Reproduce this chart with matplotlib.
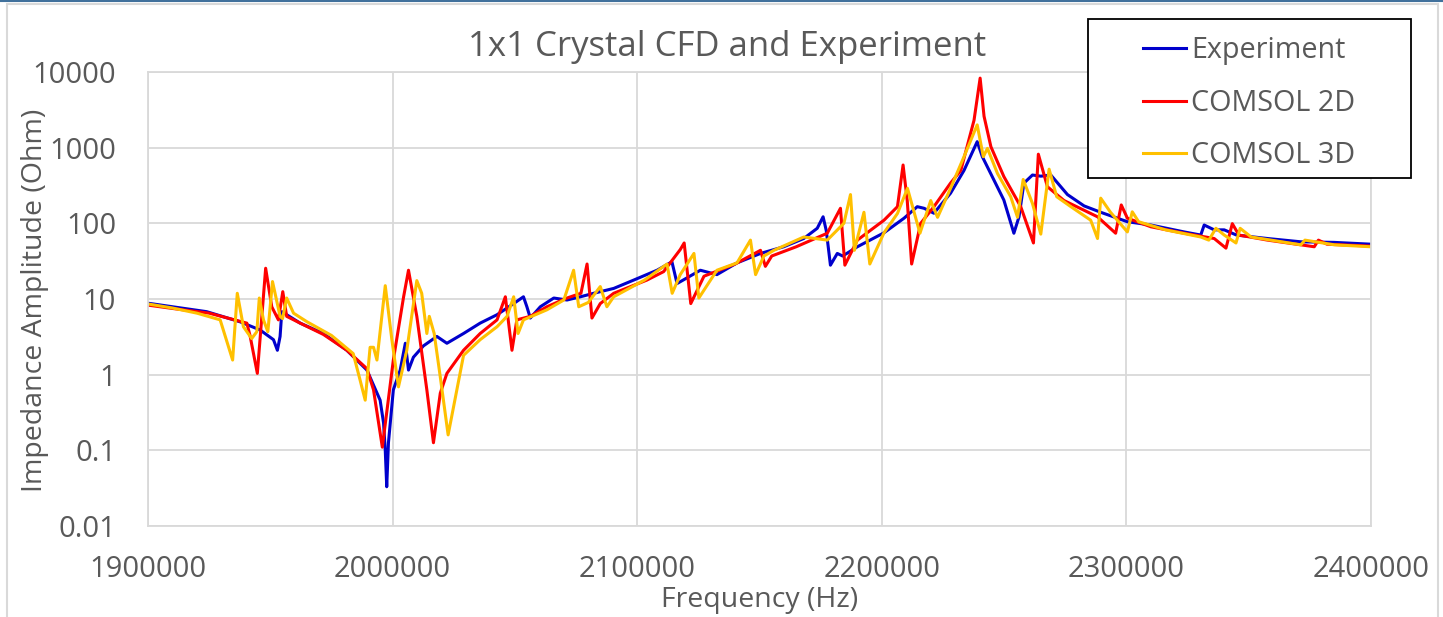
import matplotlib
matplotlib.use("Agg")
import matplotlib.pyplot as plt
from matplotlib.patches import Rectangle
from matplotlib.lines import Line2D
from matplotlib.ticker import FixedLocator, FixedFormatter

plt.rcParams['font.family'] = ['Open Sans', 'DejaVu Sans']

# ---- data -------------------------------------------------------------
exp_f = [1900000, 1910000, 1924000, 1937600, 1945800, 1951300, 1952900, 1954000,
         1954700, 1956700, 1962200, 1971700, 1981300, 1989500, 1994900, 1996300,
         1997000, 1997600, 1998300, 2000300, 2003100, 2005200, 2006500, 2008500,
         2012600, 2018100, 2022200, 2029000, 2035800, 2042700, 2049500, 2053500,
         2054900, 2056300, 2060400, 2065900, 2071300, 2076800, 2082200, 2090400,
         2098600, 2108100, 2114200, 2116300, 2125800, 2132600, 2140800, 2150400,
         2159900, 2168100, 2173600, 2176000, 2177300, 2179000, 2181800, 2184000,
         2190000, 2200900, 2209100, 2214500, 2217300, 2221300, 2228100, 2233600,
         2239000, 2241100, 2245900, 2249900, 2254000, 2256100, 2258100, 2261600,
         2265000, 2269100, 2275900, 2282700, 2289500, 2300400, 2310000, 2323600,
         2330400, 2331800, 2335900, 2340000, 2345000, 2357700, 2371300, 2385000,
         2400000]
exp_z = [8.8, 7.9, 6.8, 5.0, 3.9, 2.9, 2.1, 3.2,
         6.8, 6.2, 4.8, 3.5, 2.1, 1.15, 0.46, 0.23,
         0.1, 0.033, 0.126, 0.63, 1.15, 2.6, 1.15, 1.7,
         2.4, 3.2, 2.6, 3.5, 4.8, 6.2, 8.7, 10.7,
         7.9, 5.6, 7.9, 10.3, 9.7, 10.7, 11.9, 13.8,
         17.8, 24, 31, 16, 24, 21, 30, 40,
         49, 63, 86, 122, 80, 28, 40, 37,
         49, 75, 117, 166, 158, 136, 250, 500,
         1200, 760, 370, 203, 74, 122, 340, 435,
         420, 435, 240, 170, 140, 105, 95, 77,
         70, 95, 82, 82, 70, 63, 57, 56,
         53]

c2d_f = [1900000, 1910000, 1925000, 1940400, 1941700, 1944700, 1948100, 1950600,
         1953300, 1955100, 1956700, 1962200, 1971700, 1981300, 1989500, 1992200,
         1995800, 2000300, 2004500, 2006500, 2009900, 2014000, 2016700, 2019500,
         2022200, 2029000, 2035800, 2042700, 2046100, 2048800, 2050800, 2056300,
         2063100, 2071300, 2077000, 2079500, 2081500, 2084900, 2090400, 2104000,
         2110800, 2117600, 2119200, 2121900, 2127300, 2140000, 2150400, 2152400,
         2155000, 2165000, 2177700, 2183100, 2184900, 2190000, 2200900, 2206400,
         2208700, 2210400, 2212200, 2215900, 2221300, 2228100, 2232300, 2237700,
         2240200, 2241800, 2244600, 2249900, 2256800, 2262000, 2264000, 2267700,
         2274500, 2288200, 2295600, 2297900, 2300400, 2310000, 2323600, 2335900,
         2340700, 2343300, 2346000, 2357700, 2371300, 2376800, 2378500, 2382000,
         2400000]
c2d_z = [8.3, 7.5, 6.5, 4.8, 3.3, 1.04, 25.5, 7.9,
         5.3, 12.5, 5.9, 4.8, 3.4, 2.1, 1.2, 0.63,
         0.11, 1.56, 10.7, 24, 5.9, 0.63, 0.126, 0.57,
         1.04, 2.1, 3.5, 5.3, 10.7, 2.1, 5.3, 5.9,
         7.9, 10.3, 11.9, 29, 5.6, 8.7, 11.9, 17.8,
         23, 45, 55, 8.7, 20, 29, 44, 27,
         37, 49, 74, 158, 28, 60, 110, 166,
         590, 200, 29, 100, 166, 340, 500, 2300,
         8300, 2600, 1030, 415, 166, 55, 820, 305,
         200, 122, 74, 175, 117, 90, 74, 63,
         47, 99, 70, 60, 52, 49, 60, 53,
         50]

c3d_f = [1900000, 1910000, 1920000, 1929500, 1934600, 1936500, 1939000, 1942400,
         1944500, 1945500, 1947200, 1949000, 1950900, 1954000, 1955000, 1956700,
         1959500, 1965000, 1975000, 1983900, 1986700, 1988800, 1990800, 1992200,
         1993600, 1997000, 1999700, 2002400, 2005800, 2009900, 2011900, 2014000,
         2015000, 2017000, 2019500, 2022700, 2029000, 2035800, 2042700, 2046800,
         2049500, 2051300, 2053500, 2063100, 2070000, 2074000, 2076100, 2080000,
         2084900, 2087600, 2090400, 2103000, 2112200, 2114300, 2117600, 2123200,
         2125200, 2132600, 2140800, 2146300, 2148400, 2151800, 2155900, 2168100,
         2177700, 2184500, 2187200, 2188800, 2192700, 2195100, 2200900, 2206400,
         2210500, 2215600, 2220000, 2222800, 2228100, 2233600, 2239000, 2241500,
         2243200, 2247300, 2252700, 2255500, 2257800, 2261600, 2265000, 2268400,
         2271500, 2277300, 2285400, 2288200, 2289500, 2293500, 2300400, 2302400,
         2305000, 2316000, 2330400, 2333700, 2336600, 2340000, 2344800, 2346500,
         2351000, 2371300, 2373000, 2385000, 2400000]
c3d_z = [8.6, 7.6, 6.5, 5.3, 1.56, 11.9, 4.3, 3.0,
         3.7, 10.3, 5.3, 3.7, 17, 5.9, 5.5, 10.3,
         6.5, 5.0, 3.3, 1.9, 0.85, 0.46, 2.3, 2.3,
         1.56, 15, 2.9, 0.69, 2.1, 17.5, 11.9, 3.5,
         5.9, 3.5, 0.93, 0.16, 1.8, 2.9, 4.3, 5.9,
         10.7, 3.5, 5.3, 7.2, 9.7, 24, 7.9, 9,
         14.6, 7.9, 10.7, 17.8, 29, 11.9, 21, 40,
         10.3, 24, 30, 60, 21, 37, 44, 66,
         60, 100, 240, 44, 140, 29, 75, 135,
         290, 74, 200, 120, 290, 760, 2000, 760,
         980, 455, 225, 120, 380, 183, 72, 520,
         225, 166, 110, 63, 215, 140, 77, 142,
         105, 82, 66, 60, 86, 70, 55, 86,
         66, 52, 60, 52, 49]

series_names = ["Experiment", "COMSOL 2D", "COMSOL 3D"]
series_colors = ["#0000cc", "#ff0000", "#ffc000"]

x_ticks = [1900000, 2000000, 2100000, 2200000, 2300000, 2400000]
x_tick_labels = ["1900000", "2000000", "2100000", "2200000", "2300000", "2400000"]
y_ticks = [0.01, 0.1, 1, 10, 100, 1000, 10000]
y_tick_labels = ["0.01", "0.1", "1", "10", "100", "1000", "10000"]

# ---- figure -----------------------------------------------------------
W, H = 1443, 617
fig = plt.figure(figsize=(W / 100, H / 100), dpi=100)
fig.patch.set_facecolor("white")

def fx(px):
    return px / W

def fy(py):
    return 1 - py / H

ax = fig.add_axes([fx(148), fy(526), fx(1371) - fx(148), fy(72) - fy(526)])
ax.set_yscale("log")
ax.set_xlim(1900000, 2400000)
ax.set_ylim(0.01, 10000)

grid_c = "#d9d9d9"
text_c = "#595959"
for s in ax.spines.values():
    s.set_color(grid_c)
    s.set_linewidth(1.3)
ax.grid(True, which="major", color=grid_c, linewidth=1.3)
ax.set_axisbelow(True)

ax.xaxis.set_major_locator(FixedLocator(x_ticks))
ax.xaxis.set_major_formatter(FixedFormatter(x_tick_labels))
ax.yaxis.set_major_locator(FixedLocator(y_ticks))
ax.yaxis.set_major_formatter(FixedFormatter(y_tick_labels))
ax.yaxis.set_minor_locator(FixedLocator([]))
ax.tick_params(axis="both", which="both", length=0, labelsize=21, labelcolor=text_c)
ax.tick_params(axis="x", pad=21)
ax.tick_params(axis="y", pad=23)

lines = []
for f, z, name, col in zip([exp_f, c2d_f, c3d_f], [exp_z, c2d_z, c3d_z],
                           series_names, series_colors):
    ln, = ax.plot(f, z, color=col, linewidth=2.2, label=name, solid_joinstyle="round")
    lines.append(ln)

fig.text(fx(727), fy(47), "1x1 Crystal CFD and Experiment", ha="center", va="center",
         fontsize=25, color=text_c)
fig.text(fx(760), fy(600), "Frequency (Hz)", ha="center", va="center",
         fontsize=20.5, color=text_c)
fig.text(fx(35), fy(300), "Impedance Amplitude (Ohm)", ha="center", va="center",
         rotation=90, fontsize=20.5, color=text_c)

# legend box
fig.patches.append(Rectangle((fx(1088), fy(178)), fx(1411) - fx(1088), fy(19) - fy(178),
                             transform=fig.transFigure, facecolor="white",
                             edgecolor="black", linewidth=1.3, zorder=5))
leg = fig.legend(handles=lines, labels=series_names, loc="upper left",
                 bbox_to_anchor=(fx(1120), fy(13)), frameon=False,
                 fontsize=20.7, handlelength=1.5, handletextpad=0.17,
                 labelspacing=0.82, borderpad=0.3)
for t in leg.get_texts():
    t.set_color(text_c)
leg.set_zorder(6)

# outer chart border and top accent line
fig.patches.append(Rectangle((fx(7), -0.05), fx(1438) - fx(7), fy(4) + 0.05,
                             transform=fig.transFigure, facecolor="none",
                             edgecolor=grid_c, linewidth=1.5, zorder=0))
fig.lines.append(Line2D([0, 1], [fy(0.8), fy(0.8)], transform=fig.transFigure,
                        color="#41719c", linewidth=1.5))

fig.savefig("out.png", dpi=100)
